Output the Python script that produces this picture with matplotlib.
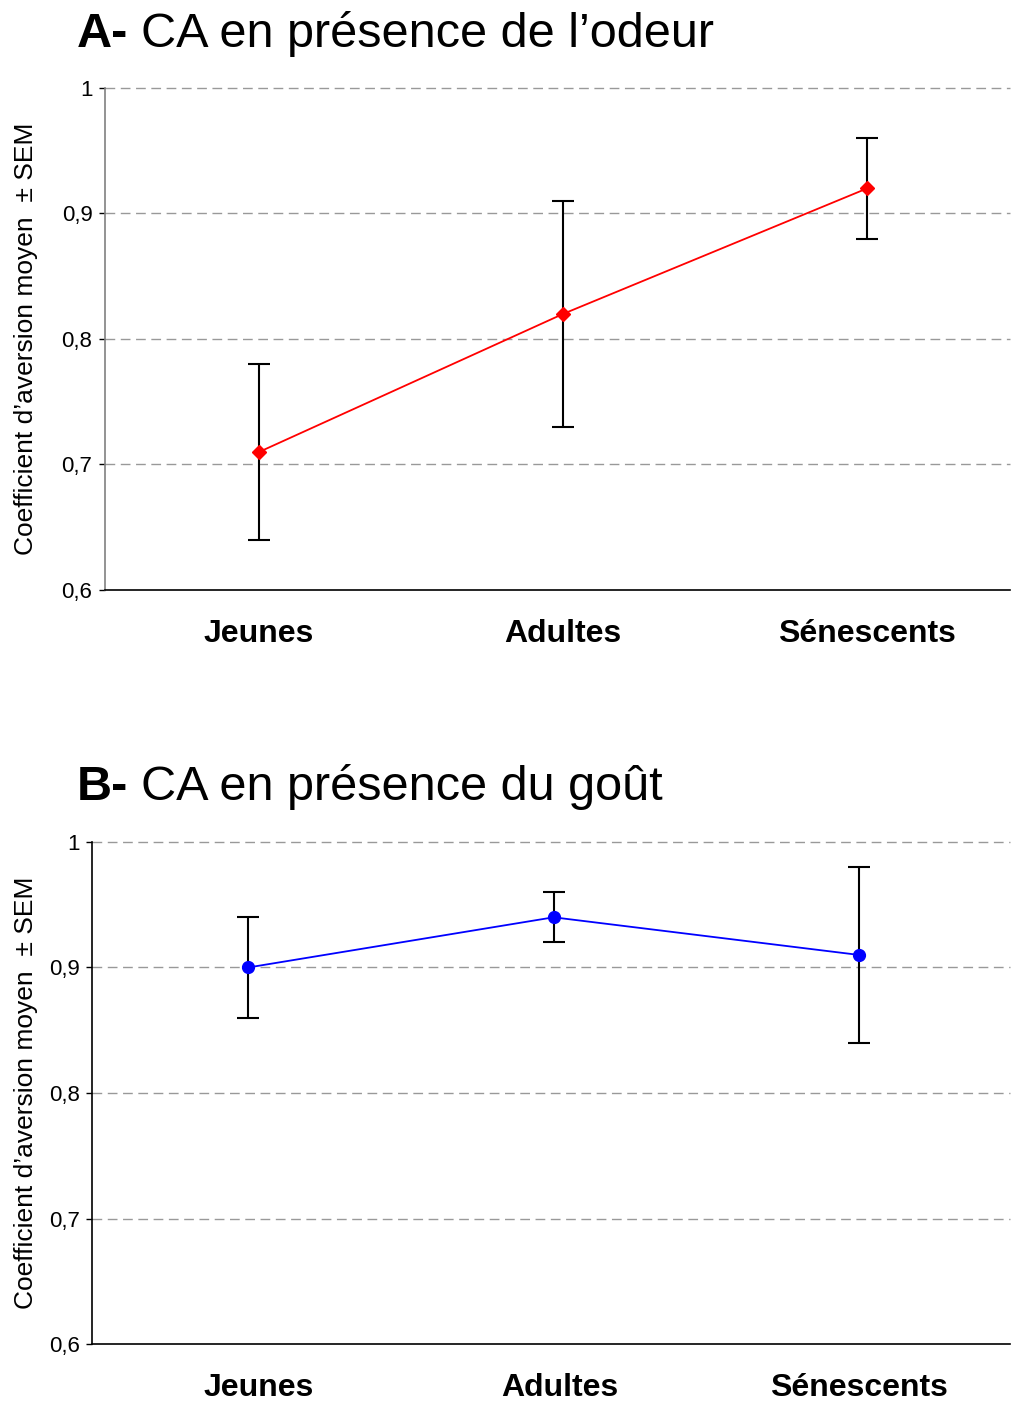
import matplotlib
matplotlib.use("Agg")
import matplotlib.pyplot as plt
from matplotlib.transforms import ScaledTranslation

plt.rcParams['font.family'] = ['Liberation Sans', 'DejaVu Sans']

categories = ["Jeunes", "Adultes", "Sénescents"]
odeur_mean = [0.71, 0.82, 0.92]
odeur_sem = [0.07, 0.09, 0.04]
gout_mean = [0.90, 0.94, 0.91]
gout_sem = [0.04, 0.02, 0.07]
yticks = [0.6, 0.7, 0.8, 0.9, 1.0]
ytick_labels = ["0,6", "0,7", "0,8", "0,9", "1"]
ylabel = "Coefficient d\u2019aversion moyen  \u00b1 SEM"

W, H = 1011, 1401
fig = plt.figure(figsize=(W / 100, H / 100), dpi=100)


def panel(rect, means, sems, color, marker, ms, xlim, spine_color, title_bold, title_rest,
          title_xy, label_x_px, label_dx_px):
    ax = fig.add_axes(rect)
    x = list(range(len(categories)))
    ax.errorbar(x, means, yerr=sems, fmt='none', ecolor='black', elinewidth=1.5,
                capsize=8, capthick=1.5, zorder=2)
    ax.plot(x, means, color=color, lw=1.3, marker=marker, ms=ms, mec=color, mfc=color, zorder=3)
    ax.set_ylim(0.6, 1.0)
    ax.set_xlim(*xlim)
    ax.set_yticks(yticks)
    ax.set_yticklabels(ytick_labels, fontsize=16)
    ax.set_xticks(x)
    ax.set_xticklabels(categories, fontsize=23, fontweight='bold')
    ax.tick_params(axis='x', length=0, pad=21)
    ax.tick_params(axis='y', length=4, width=1, direction='out', pad=5, color='black')
    for lab, dx in zip(ax.get_xticklabels(), label_dx_px):
        lab.set_transform(lab.get_transform() + ScaledTranslation(dx / 100, 0, fig.dpi_scale_trans))
    for yv in yticks[1:]:
        ax.axhline(yv, color='#999999', lw=1, ls=(0, (7, 4)), zorder=1, clip_on=False)
    for s in ['top', 'right']:
        ax.spines[s].set_visible(False)
    ax.spines['left'].set_color(spine_color)
    ax.spines['left'].set_linewidth(1.2)
    ax.spines['bottom'].set_color('black')
    ax.spines['bottom'].set_linewidth(1.2)
    ax.set_ylabel(ylabel, fontsize=19)
    ax.yaxis.set_label_coords(label_x_px / (rect[2] * W), 0.5)
    fig.text(title_xy[0], title_xy[1], title_bold, fontsize=35, fontweight='bold', ha='left', va='baseline')
    t = fig.text(title_xy[0], title_xy[1], title_bold, fontsize=35, fontweight='bold', ha='left', va='baseline', alpha=0)
    fig.canvas.draw()
    bb = t.get_window_extent()
    fig.text(bb.x1 / W + 0.012, title_xy[1], title_rest, fontsize=35, ha='left', va='baseline')
    return ax


panel([105 / W, 1 - 590 / H, 905 / W, 502 / H], odeur_mean, odeur_sem, '#ff0000', 'D', 7,
      (-0.507, 2.47), '#808080', "A-", "CA en présence de l\u2019odeur", (77 / W, 1 - 47 / H),
      -67, [0, 0, 0])
panel([92 / W, 1 - 1344 / H, 918 / W, 502 / H], gout_mean, gout_sem, '#0000ff', 'o', 8.5,
      (-0.511, 2.494), 'black', "B-", "CA en présence du goût", (77 / W, 1 - 800 / H),
      -54, [11, 6, 0])

fig.savefig("out.png", dpi=100)
